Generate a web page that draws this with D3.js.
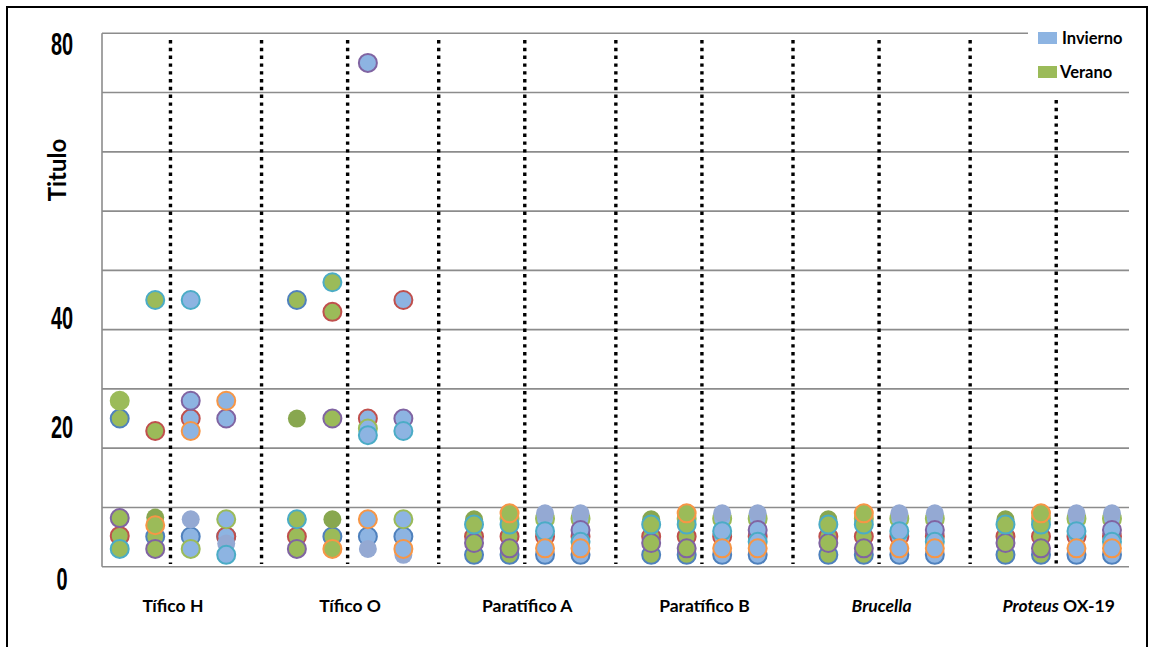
<!DOCTYPE html>
<html>
<head>
<meta charset="utf-8">
<script src="https://cdn.jsdelivr.net/npm/d3@7/dist/d3.min.js"></script>
<style>
  html, body { margin: 0; padding: 0; background: #fff; }
  svg { display: block; }
</style>
</head>
<body>
<svg id="chart" width="1152" height="647"></svg>
<script>
// Agglutination titres by antigen, season and group
const categories = ["Tífico H", "Tífico O", "Paratífico A", "Paratífico B", "Brucella", "Proteus OX-19"];
const columns = [0, 1, 2, 3];
const columnSeason = ["Verano", "Verano", "Invierno", "Invierno"];
const seasons = ["Invierno", "Verano"];

// One list per marker series: for each antigen, the titre in each of the four columns (null = no point)
const serieAzul     = [[25, 5.1, 5.1, 5.1], [45, 5.1, 5.1, 5.1], [2, 2, 2, 2], [2, 2, 2, 2], [2, 2, 2, 2], [2, 2, 2, 2]];
const serieRojo     = [[5.2, 22.9, 25, 5.1], [5.1, 43, 25, 45], [5.1, 5.1, 5.1, 5.1], [5.1, 5.1, 5.1, 5.1], [5.1, 5.1, 5.1, 5.1], [5.1, 5.1, 5.1, 5.1]];
const serieVerde    = [[28, null, 3, 8], [null, null, 23.3, 8], [null, 8.1, 8.1, 8.1], [null, 8.1, 8.1, 8.1], [null, 8.1, 8.1, 8.1], [null, 8.1, 8.1, 8.1]];
const serieSinBorde = [[null, 8.3, 8, 3.9], [25, 8, 3, 2], [8, null, 9, 9], [8, null, 9, 9], [8, null, 9, 9], [8, null, 9, 9]];
const serieMorado   = [[8.2, 3, 28, 25], [3, 25, 85, 25], [4, 3.1, null, 6.2], [4, 3.1, null, 6.2], [4, 3.1, null, 6.2], [4, 3.1, null, 6.2]];
const serieTurquesa = [[3, 45, 45, 2], [8, 48, 22.2, 22.9], [7.1, 7.1, 6, 4.2], [7.1, 7.1, 6, 4.2], [7.1, 7.1, 6, 4.2], [7.1, 7.1, 6, 4.2]];
const serieNaranja  = [[null, 7, 22.9, 28], [null, 3, 8, 3], [null, 9, 3.1, 3.1], [null, 9, 3.1, 3.1], [null, 9, 3.1, 3.1], [null, 9, 3.1, 3.1]];

// Draw order (later series on top)
const seriesList = [
  { name: "azul", values: serieAzul, stroke: "#4F81BD" },
  { name: "rojo", values: serieRojo, stroke: "#C0504D" },
  { name: "verde", values: serieVerde, stroke: "#9BBB59" },
  { name: "sinBorde", values: serieSinBorde, stroke: null },
  { name: "morado", values: serieMorado, stroke: "#8064A2" },
  { name: "turquesa", values: serieTurquesa, stroke: "#4BACC6" },
  { name: "naranja", values: serieNaranja, stroke: "#F79646" }
];

const yTickLabels = ["0", "20", "40", "80"];
const gridValues = d3.range(0, 91, 10);

const seasonFill = { Verano: "#9BBB59", Invierno: "#8DB4E2" };
const seasonFillPlain = { Verano: "#88A74F", Invierno: "#94A9D3" };

const svg = d3.select("#chart");
const plot = { left: 102, right: 1129, top: 33.3, bottom: 566.7 };
const legendLeft = 1028;

// outer frame
svg.append("rect").attr("x", 7).attr("y", 7).attr("width", 1140).attr("height", 700)
  .attr("fill", "#fff").attr("stroke", "#000").attr("stroke-width", 2);

const y = d3.scaleLinear().domain([0, 90]).range([plot.bottom, plot.top]);
const x = d3.scaleBand().domain(categories).range([84.4, 1147.3]).paddingInner(0).paddingOuter(0);
const xc = d3.scaleBand().domain(columns).range([-71, 71]);
const catCenter = c => x(c) + x.bandwidth() / 2;

// horizontal gridlines
svg.append("g").selectAll("line").data(gridValues).join("line")
  .attr("x1", plot.left)
  .attr("x2", d => d === 90 ? legendLeft : plot.right)
  .attr("y1", d => y(d)).attr("y2", d => y(d))
  .attr("stroke", "#8C8C8C").attr("stroke-width", 1.6);

// vertical axis line
svg.append("line").attr("x1", plot.left).attr("x2", plot.left)
  .attr("y1", y(90)).attr("y2", y(0)).attr("stroke", "#8C8C8C").attr("stroke-width", 1.6);

// dotted separators: one in the middle of each antigen, one between antigens
const dividers = [];
categories.forEach((c, i) => {
  dividers.push(catCenter(c) - 2.5);
  if (i > 0) dividers.push(x(c));
});
svg.append("g").selectAll("line").data(dividers).join("line")
  .attr("x1", d => d).attr("x2", d => d)
  .attr("y1", d => d > legendLeft ? 100 : 40)
  .attr("y2", 564)
  .attr("stroke", "#000").attr("stroke-width", 3.4)
  .attr("stroke-dasharray", "3.4 4.4");

// points
const pts = [];
seriesList.forEach(s => {
  s.values.forEach((row, ci) => {
    row.forEach((v, col) => {
      if (v === null) return;
      pts.push({ series: s, cat: categories[ci], col, value: v, season: columnSeason[col] });
    });
  });
});
svg.append("g").selectAll("circle").data(pts).join("circle")
  .attr("cx", d => catCenter(d.cat) + xc(d.col) + xc.bandwidth() / 2)
  .attr("cy", d => y(d.value))
  .attr("r", 9)
  .attr("fill", d => d.series.stroke ? seasonFill[d.season] : seasonFillPlain[d.season])
  .attr("stroke", d => d.series.stroke || "none")
  .attr("stroke-width", 2);

// y tick labels (condensed bold digits)
const tickLabelLevel = { "0": -2.1, "20": 23.6, "40": 42, "80": 88.2 };
svg.append("g").selectAll("text").data(yTickLabels).join("text")
  .attr("transform", d => `translate(62,${y(tickLabelLevel[d])}) scale(0.95,1.5)`)
  .attr("text-anchor", "middle").attr("dominant-baseline", "central")
  .attr("font-family", "'Liberation Sans', Arial, sans-serif")
  .attr("font-weight", "bold").attr("font-size", 21)
  .attr("fill", "#000")
  .text(d => d);

// y axis title
svg.append("text")
  .attr("transform", "translate(56,170) rotate(-90)")
  .attr("text-anchor", "middle").attr("dominant-baseline", "central")
  .attr("font-family", "Lato, sans-serif").attr("font-weight", "bold").attr("font-size", 24)
  .text("Titulo");

// category labels (genus names in italics)
const catLabel = svg.append("g").selectAll("text").data(categories).join("text")
  .attr("x", d => catCenter(d)).attr("y", 612)
  .attr("text-anchor", "middle")
  .attr("font-family", "Lato, sans-serif").attr("font-weight", "bold").attr("font-size", 17.5)
  .attr("fill", "#000");
catLabel.each(function (d) {
  const t = d3.select(this);
  if (d === "Brucella") {
    t.append("tspan").attr("font-style", "italic").text("Brucella");
  } else if (d.startsWith("Proteus")) {
    t.append("tspan").attr("font-style", "italic").text("Proteus");
    t.append("tspan").text(d.slice("Proteus".length));
  } else {
    t.text(d);
  }
});

// legend
const lg = svg.append("g");
lg.append("rect").attr("x", legendLeft).attr("y", 15).attr("width", 112).attr("height", 72).attr("fill", "#fff");
const lgItems = lg.selectAll("g.item").data(seasons).join("g")
  .attr("transform", (d, i) => `translate(1038,${38 + i * 34})`);
lgItems.append("rect").attr("x", 0).attr("y", -6).attr("width", 19).attr("height", 12)
  .attr("fill", d => d === "Invierno" ? "#8DB4E2" : "#9BBB59");
lgItems.append("text").attr("x", d => d === "Invierno" ? 24 : 22).attr("y", 0)
  .attr("dominant-baseline", "central")
  .attr("font-family", "Lato, sans-serif").attr("font-weight", "bold").attr("font-size", 16.5)
  .text(d => d);
</script>
</body>
</html>
